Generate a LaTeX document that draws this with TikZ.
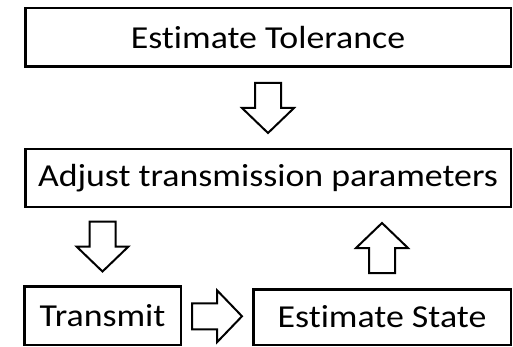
\documentclass[tikz,border=0pt]{standalone}
\usepackage{fontspec}
\setmainfont{Carlito}[Ligatures=NoCommon, FakeStretch=1.12]
\usepackage{tikz}
\usetikzlibrary{positioning, calc}

\tikzset{
  stage/.style={draw, line width=2.5pt, inner sep=0pt, font=\fontsize{32}{38}\selectfont},
  blockarrow/.pic={\draw[line width=2pt, line join=miter] (-25,-13) -- (0,-13) -- (0,-26) -- (25,0) -- (0,26) -- (0,13) -- (-25,13) -- cycle;}
}

\begin{document}
\begin{tikzpicture}[x=1pt,y=-1pt]
\useasboundingbox (0,0) rectangle (513,347);
% Stages
\node[stage, minimum width=485.5pt, minimum height=58.5pt] (tol) at (268,37.5) {Estimate Tolerance};
\node[stage, minimum width=485.5pt, minimum height=57.5pt] (adj) at (268,178) {Adjust transmission parameters};
\node[stage, minimum width=156.5pt, minimum height=58.5pt] (tx) at (102.5,315.5) {Transmit};
\node[stage, minimum width=257.5pt, minimum height=55.5pt] (st) at (382,317) {Estimate State};

% Block arrows
\pic[rotate=-90] at ($(tol.south)!0.5!(adj.north)$) {blockarrow};
\pic[rotate=-90] at ($(adj.south -| tx.north)!0.5!(tx.north)$) {blockarrow};
\pic[rotate=90] at ($(adj.south -| st.north)!0.5!(st.north)$) {blockarrow};
\pic at ($(tx.east)!0.5!(st.west)$) {blockarrow};
\end{tikzpicture}
\end{document}
